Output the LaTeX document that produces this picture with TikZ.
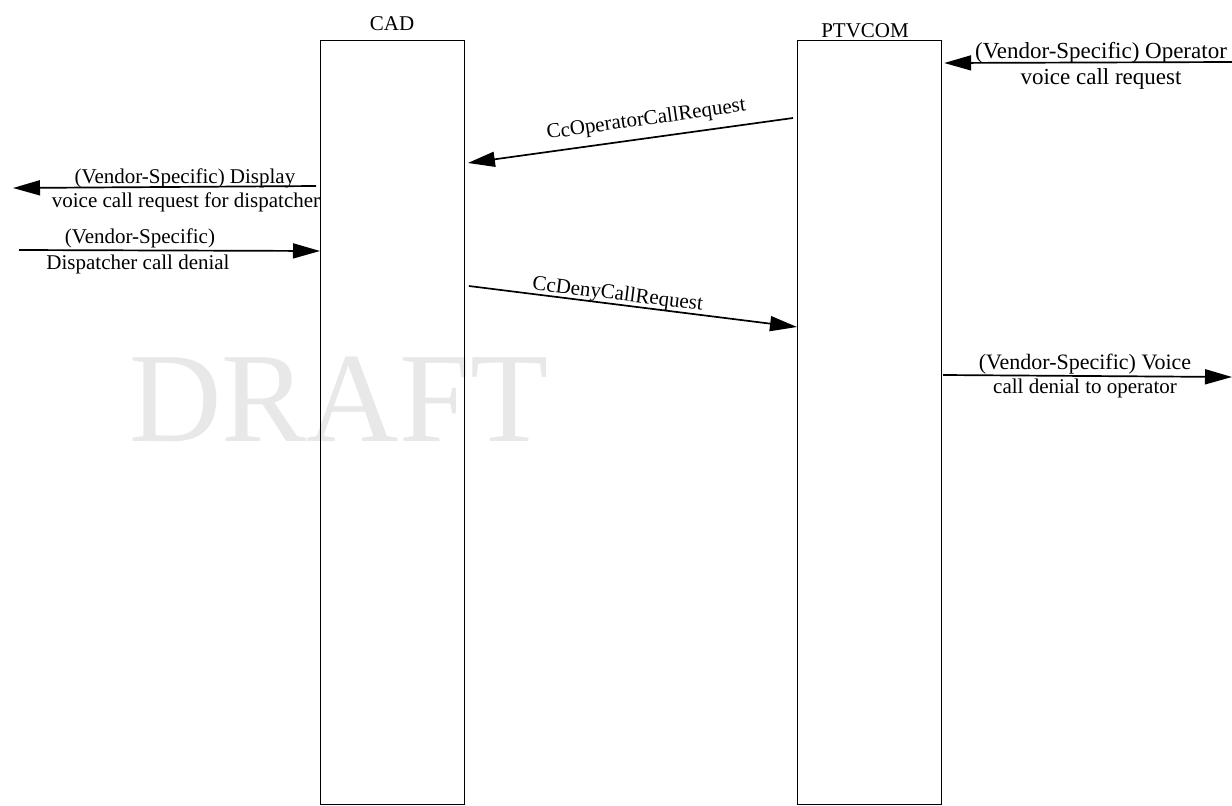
\documentclass[tikz,border=0pt]{standalone}
\usepackage{fontspec}
\setmainfont{Liberation Serif}
\usetikzlibrary{arrows.meta,calc}
\definecolor{wmgray}{gray}{0.91}
\begin{document}
\begin{tikzpicture}[x=1pt,y=-1pt,
  lifeline/.style={draw=black, line width=0.9pt, minimum width=144pt, minimum height=764pt, anchor=north west, inner sep=0pt},
  msg/.style={line width=1.7pt, -{Triangle[length=27pt,width=15pt]}},
  lbl/.style={font=\fontsize{21}{24}\selectfont, inner sep=0pt, anchor=base},
  biglbl/.style={font=\fontsize{23}{26}\selectfont, inner sep=0pt, anchor=base},
  title/.style={font=\fontsize{21}{24}\selectfont, inner sep=0pt, anchor=base}]
\useasboundingbox (0,0) rectangle (1232,806);

% watermark
\node[font=\fontsize{128}{132}\selectfont, text=wmgray, inner sep=0pt, anchor=base west] (wm) at (129,441) {DRAFT};

% participants
\node[lifeline] (cad) at (320,40) {};
\node[lifeline, line width=1.2pt] (ptv) at (797,40) {};
\node[title] (cadt) at (392,30) {CAD};
\node[title] (ptvt) at (865,37) {PTVCOM};

% free ends of external messages
\coordinate (opin) at (1232,62);
\coordinate (dispout) at (13,188);
\coordinate (dispin) at (19,250);
\coordinate (opout) at (1232,377);

% messages
\draw[msg] (opin) -- ($(ptv.north east)+(2,23)$);
\draw[msg] ($(ptv.north west)+(-4,78)$) -- ($(cad.north east)+(3,123)$);
\draw[msg] ($(cad.north west)+(-4,146)$) -- (dispout);
\draw[msg] (dispin) -- ($(cad.north west)+(0,211)$);
\draw[msg] ($(cad.north east)+(4,246)$) -- ($(ptv.north west)+(0,287)$);
\draw[msg] ($(ptv.north east)+(1,335)$) -- (opout);

% message labels
\node[biglbl] (l1a) at (1101,58) {(Vendor-Specific) Operator};
\node[biglbl] (l1b) at (1101,84) {voice call request};
\node[lbl, rotate=8] (l2) at (647,125) {CcOperatorCallRequest};
\node[lbl] (l3a) at (185,183) {(Vendor-Specific) Display};
\node[lbl] (l3b) at (186,207) {voice call request for dispatcher};
\node[lbl] (l4a) at (140,243) {(Vendor-Specific)};
\node[lbl] (l4b) at (138,269) {Dispatcher call denial};
\node[lbl, rotate=-7] (l5) at (617,300) {CcDenyCallRequest};
\node[lbl, font=\fontsize{22}{24}\selectfont] (l6a) at (1085,369) {(Vendor-Specific) Voice};
\node[lbl] (l6b) at (1085,393) {call denial to operator};
\end{tikzpicture}
\end{document}
